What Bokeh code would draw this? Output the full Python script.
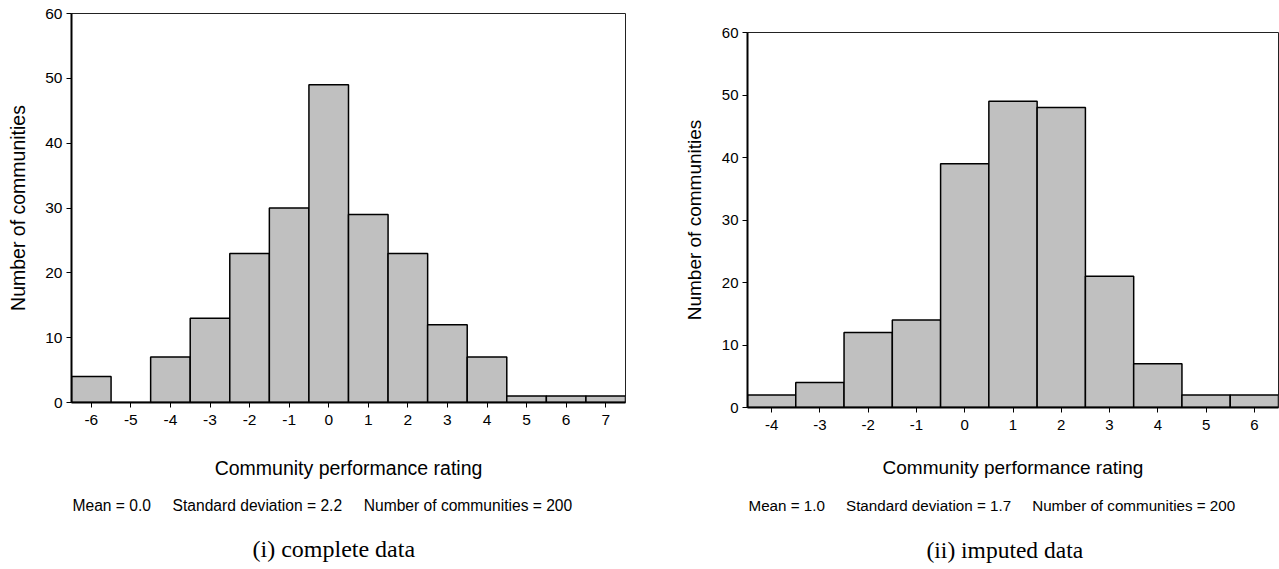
from bokeh.plotting import figure
from bokeh.layouts import row
from bokeh.models import Range1d, FixedTicker, Title
from bokeh.embed import file_html
from bokeh.resources import INLINE

# ---- data ----
complete_bins = [-6, -5, -4, -3, -2, -1, 0, 1, 2, 3, 4, 5, 6, 7]
complete_counts = [4, 0, 7, 13, 23, 30, 49, 29, 23, 12, 7, 1, 1, 1]
complete_stats = ["Mean = 0.0", "Standard deviation = 2.2", "Number of communities = 200"]
complete_caption = "(i) complete data"

imputed_bins = [-4, -3, -2, -1, 0, 1, 2, 3, 4, 5, 6]
imputed_counts = [2, 4, 12, 14, 39, 49, 48, 21, 7, 2, 2]
imputed_stats = ["Mean = 1.0", "Standard deviation = 1.7", "Number of communities = 200"]
imputed_caption = "(ii) imputed data"

y_ticks = [0, 10, 20, 30, 40, 50, 60]
x_label = "Community performance rating"
y_label = "Number of communities"

SANS = "Liberation Sans"
SERIF = "Liberation Serif"
GAP = "\u00a0" * 5


def make_hist(bins, counts, stats, caption, width, height, borders, fonts,
              ylab_std, xlab_std, xtick_std, stat_std, cap_std, cap_offset):
    p = figure(width=width, height=height, output_backend="svg", toolbar_location=None,
               x_range=Range1d(min(bins) - 0.5, max(bins) + 0.5), y_range=Range1d(0, 60),
               min_border_left=borders[0], min_border_right=borders[1],
               min_border_top=borders[2], min_border_bottom=borders[3],
               frame_align=False)
    p.title.visible = False
    p.quad(left=[b - 0.5 for b in bins], right=[b + 0.5 for b in bins],
           bottom=0, top=counts, fill_color="#c0c0c0", line_color="black", line_width=1.5)
    p.grid.visible = False
    p.outline_line_color = "#222222"
    p.outline_line_width = 1
    p.background_fill_color = "white"
    p.border_fill_color = "white"

    tick_font, label_font, stat_font, cap_font = fonts

    p.yaxis.ticker = FixedTicker(ticks=y_ticks)
    p.xaxis.ticker = FixedTicker(ticks=bins)
    p.xaxis.major_label_overrides = {b: str(b) for b in bins}
    for ax in (p.xaxis[0], p.yaxis[0]):
        ax.axis_line_width = 2
        ax.axis_line_color = "black"
        ax.major_tick_in = 0
        ax.major_tick_out = 5
        ax.major_tick_line_color = "black"
        ax.minor_tick_line_color = None
        ax.major_label_text_font = SANS
        ax.major_label_text_font_size = tick_font
        ax.major_label_text_color = "black"
        ax.axis_label_text_font = SANS
        ax.axis_label_text_font_size = label_font
        ax.axis_label_text_font_style = "normal"
        ax.axis_label_text_color = "black"
    p.yaxis.axis_label = y_label
    p.xaxis.axis_label = x_label
    p.yaxis.major_label_standoff = 4
    p.yaxis.axis_label_standoff = ylab_std
    p.xaxis.major_label_standoff = xtick_std
    p.xaxis.axis_label_standoff = xlab_std

    p.add_layout(Title(text=GAP.join(stats), align="left", offset=1,
                       text_font=SANS, text_font_size=stat_font, text_font_style="normal",
                       text_color="black", standoff=stat_std), "below")
    p.add_layout(Title(text=caption, align="left", offset=cap_offset,
                       text_font=SERIF, text_font_size=cap_font, text_font_style="normal",
                       text_color="black", standoff=cap_std), "below")
    return p


p1 = make_hist(complete_bins, complete_counts, complete_stats, complete_caption,
               680, 568, (71, 55, 13, 166), ("15.5px", "19.5px", "15.6px", "24px"),
               13, 29, 7, 27, 13, 181)
p2 = make_hist(imputed_bins, imputed_counts, imputed_stats, imputed_caption,
               599, 568, (67, 1, 32, 161), ("15px", "19px", "15.2px", "23.5px"),
               14, 24, 7, 29, 12, 179)

layout = row(p1, p2)
open("out.html", "w").write(file_html(layout, INLINE))
